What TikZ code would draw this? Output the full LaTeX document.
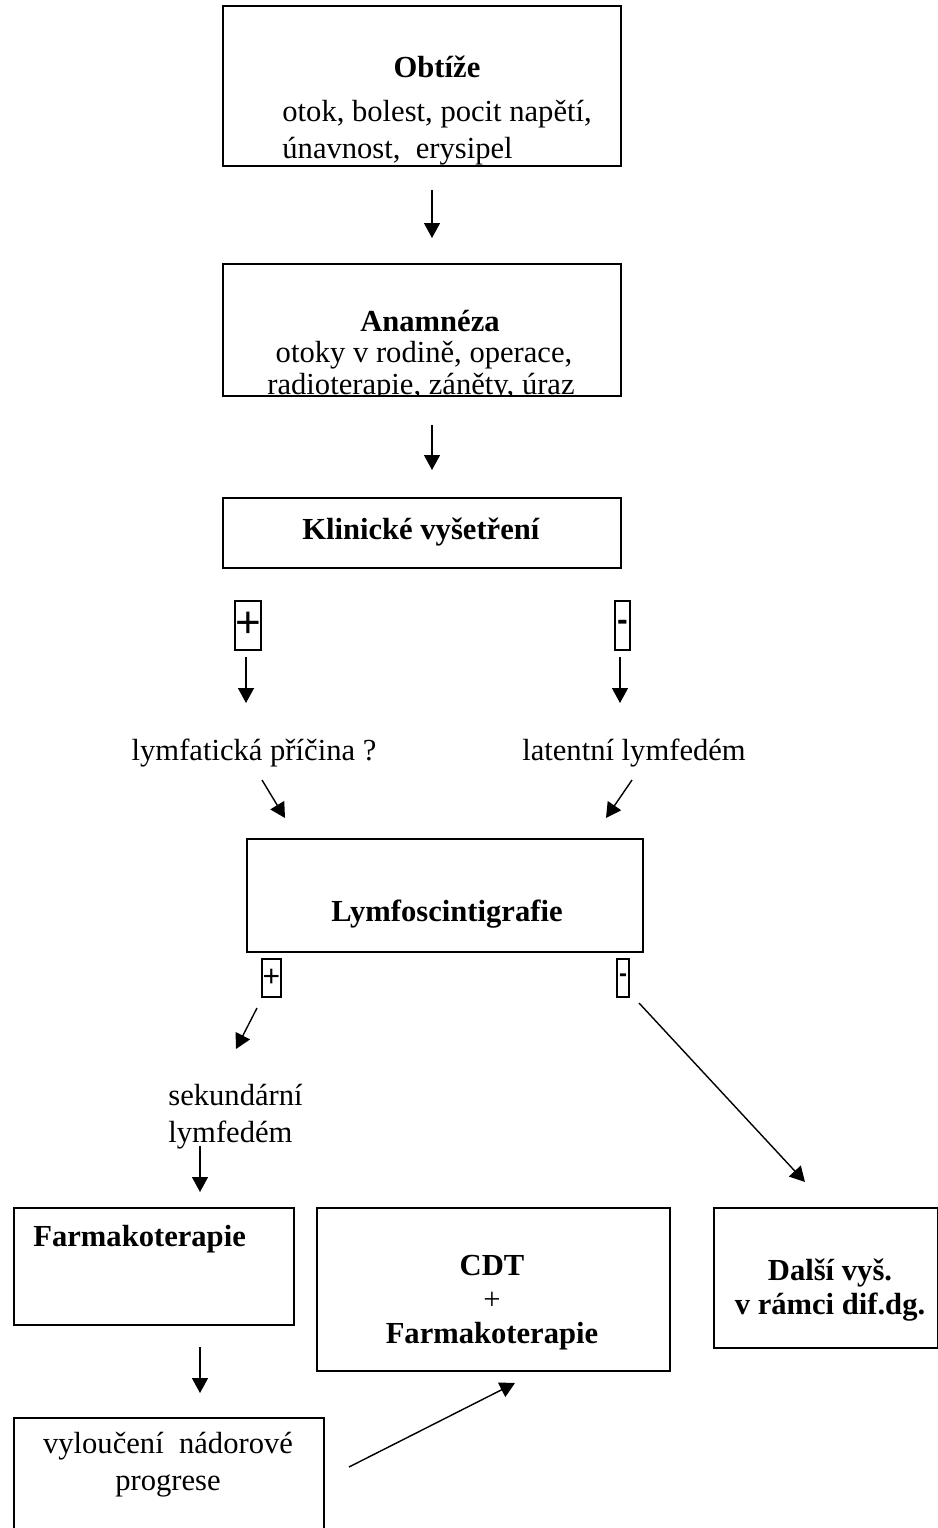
\documentclass[tikz,border=0pt]{standalone}
\usepackage{fontspec}
\setmainfont{Liberation Serif}
\newfontfamily\sansf{Liberation Sans}
\usetikzlibrary{arrows.meta}
\begin{document}
\begin{tikzpicture}[x=0.5pt,y=-0.5pt,
  every node/.style={font=\fontsize{15.3}{17.6}\selectfont},
  box/.style={draw,line width=1pt,inner sep=0pt,anchor=north west},
  arr/.style={-{Triangle[length=7.5pt,width=8pt]},line width=0.7pt},
  txt/.style={inner sep=0pt,anchor=base},
  txtw/.style={inner sep=0pt,anchor=base west},
  sign/.style={draw,line width=1pt,inner sep=0pt}]
\useasboundingbox (0,0) rectangle (938,1528);
% boxes
\node[box,minimum width=199pt,minimum height=80pt] (ob) at (222,5) {};
\node[box,minimum width=199pt,minimum height=66pt] (an) at (222,263) {};
\node[box,minimum width=199pt,minimum height=35pt] (kl) at (222,497) {};
\node[box,minimum width=198pt,minimum height=56.5pt] (ly) at (246,838) {};
\node[box,minimum width=140pt,minimum height=58.5pt] (fa) at (13,1207) {};
\node[box,minimum width=176.5pt,minimum height=81.5pt] (cdt) at (316,1207) {};
\node[box,minimum width=112pt,minimum height=70pt] (dv) at (713,1207) {};
\node[box,minimum width=155pt,minimum height=64pt] (vy) at (13,1417) {};
% texts in boxes (clipped like the original)
\begin{scope}
\clip (223,6) rectangle (619,164);
\node[txt] (obT) at (437,77) {\textbf{Obtíže}};
\node[txtw] (ob2) at (282,121) {otok, bolest, pocit napětí,};
\node[txtw] (ob3) at (282,158) {únavnost,\ \ erysipel};
\end{scope}
\begin{scope}
\clip (223,264) rectangle (619,394);
\node[txt] (anT) at (430,331) {\textbf{Anamnéza}};
\node[txt] (an2) at (424,362) {otoky v rodině, operace,};
\node[txt] (an3) at (421,394) {radioterapie, záněty, úraz};
\end{scope}
\node[txt] (klT) at (421,539) {\textbf{Klinické vyšetření}};
\node[txt] (lyT) at (447,921) {\textbf{Lymfoscintigrafie}};
\node[txtw] (faT) at (33,1246) {\textbf{Farmakoterapie}};
\node[txt] (cdt1) at (492,1275) {\textbf{CDT}};
\node[txt] (cdt2) at (492,1309) {+};
\node[txt] (cdt3) at (492,1343) {\textbf{Farmakoterapie}};
\node[txt] (dv1) at (830,1280) {\textbf{Další vyš.}};
\node[txt] (dv2) at (830,1314) {\textbf{v rámci dif.dg.}};
\node[txt] (vy1) at (168,1453) {vyloučení\ \ nádorové};
\node[txt] (vy2) at (168,1490) {progrese};
% free labels
\node[txt] (lp) at (254,760) {lymfatická příčina ?};
\node[txt] (ll) at (634,760) {latentní lymfedém};
\node[txtw] (sl1) at (168,1105) {sekundární};
\node[txtw] (sl2) at (168,1142) {lymfedém};
% sign boxes
\node[sign,minimum width=13pt,minimum height=24.5pt,font=\sansf\fontsize{22}{22}\selectfont] (p1) at (248,625) {+};
\node[sign,minimum width=7.5pt,minimum height=24.5pt,font=\sansf\bfseries\fontsize{16}{16}\selectfont] (m1) at (622.5,625) {\raisebox{-1pt}{-}};
\node[sign,minimum width=9.5pt,minimum height=19pt,font=\sansf\fontsize{15}{15}\selectfont] (p2) at (271.5,978) {+};
\node[sign,minimum width=6pt,minimum height=19pt,font=\sansf\bfseries\fontsize{12}{12}\selectfont] (m2) at (623,978) {\raisebox{-2pt}{-}};
% arrow end points
\coordinate (a1s) at (432,190); \coordinate (a1e) at (432,238);
\coordinate (a2s) at (432,425); \coordinate (a2e) at (432,470);
\coordinate (a3s) at (246,657); \coordinate (a3e) at (246,703);
\coordinate (a4s) at (620,657); \coordinate (a4e) at (620,703);
\coordinate (a5s) at (262,780); \coordinate (a5e) at (285,818);
\coordinate (a6s) at (632,780); \coordinate (a6e) at (606,818);
\coordinate (a7s) at (257,1008); \coordinate (a7e) at (236,1049);
\coordinate (a8s) at (639,1003); \coordinate (a8e) at (805,1182);
\coordinate (a9s) at (200,1146); \coordinate (a9e) at (200,1192);
\coordinate (a10s) at (200,1347); \coordinate (a10e) at (200,1393);
\coordinate (a11s) at (349,1467); \coordinate (a11e) at (515,1383);
\draw[arr] (a1s) -- (a1e);
\draw[arr] (a2s) -- (a2e);
\draw[arr] (a3s) -- (a3e);
\draw[arr] (a4s) -- (a4e);
\draw[arr] (a5s) -- (a5e);
\draw[arr] (a6s) -- (a6e);
\draw[arr] (a7s) -- (a7e);
\draw[arr] (a8s) -- (a8e);
\draw[arr] (a9s) -- (a9e);
\draw[arr] (a10s) -- (a10e);
\draw[arr] (a11s) -- (a11e);
\end{tikzpicture}
\end{document}
